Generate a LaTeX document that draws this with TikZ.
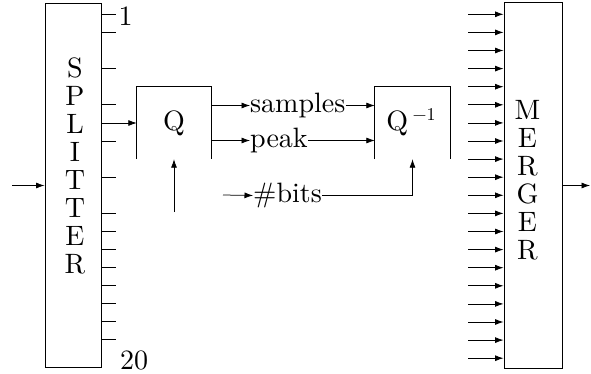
\documentclass[tikz,border=0pt]{standalone}
\usepackage{fontspec}
\setmainfont{lmroman10-regular.otf}
\usetikzlibrary{arrows.meta,calc}
\begin{document}
\begin{tikzpicture}[x=1pt,y=-1pt,
  arr/.style={line width=0.75pt,-{Latex[length=8.5pt,width=6pt]}},
  boxnode/.style={draw,line width=1pt,rectangle,inner sep=0pt},
  openbox/.style={rectangle,inner sep=0pt},
  bigtxt/.style={font=\fontsize{28}{28}\selectfont,inner sep=0pt},
  vtxt/.style={font=\fontsize{28}{28}\selectfont,inner sep=0pt,align=center},
  tick/.style={line width=0.75pt}]
\useasboundingbox (0,0) rectangle (591,374);

% splitter and merger
\node[boxnode,minimum width=56pt,minimum height=363pt] (S) at (73,185.5) {};
\node[vtxt] (Stxt) at (75,166) {S\\P\\L\\I\\T\\T\\E\\R};
\node[boxnode,minimum width=58pt,minimum height=365pt] (M) at (533,185.5) {};
\node[vtxt] (Mtxt) at (527.5,180) {M\\E\\R\\G\\E\\R};

% Q and Q^-1 (open at the bottom)
\node[openbox,minimum width=74pt,minimum height=72pt] (Q) at (174,123) {};
\node[bigtxt] (Qtxt) at (174,123) {Q};
\draw[line width=1pt] (Q.south west) -- (Q.north west) -- (Q.north east) -- (Q.south east);
\node[openbox,minimum width=75pt,minimum height=72pt] (Qi) at (412.5,123) {};
\node[bigtxt] (Qitxt) at (411,122) {Q\,\raisebox{10pt}{\fontsize{18}{18}\selectfont \char"2212 1}};
\draw[line width=1pt] (Qi.south west) -- (Qi.north west) -- (Qi.north east) -- (Qi.south east);

% labels 1 and 20
\node[bigtxt,anchor=west] (n1) at (118.5,16) {1};
\node[bigtxt,anchor=west] (n20) at (120,360) {20};

% splitter input
\coordinate (sin) at (12,185.5);
\draw[arr] (sin) -- (S.west);

% splitter output ticks
\foreach \i in {1,2,4,6,8,10,12,13,14,15,16,17,18,19}{
  \draw[tick] ($(S.east)+(0,{14.5+18.07*(\i-1)-185.5})$) -- ++(14,0);
}
% output 7 into Q
\draw[arr] (S.east |- Q.west) -- (Q.west);

% Q control input
\coordinate (qbin) at (174,212);
\draw[arr] (qbin) -- (Q.south);

% data labels
\node[bigtxt,anchor=base west] (samp) at (250,112.5) {samples};
\node[bigtxt,anchor=base west] (peak) at (250,147.5) {peak};
\node[bigtxt,anchor=base west] (bits) at (253,202.5) {\#bits};

\draw[arr] (Q.east |- samp.west) -- (samp.west);
\draw[arr] (Q.east |- peak.west) -- (peak.west);
\draw[arr] (samp.east) -- (Qi.west |- samp.east);
\draw[arr] (peak.east) -- (Qi.west |- peak.east);
\coordinate (bitsin) at (223,195);
\draw[arr] (bitsin) -- (bits.west);
\draw[arr] (bits.east) -| (Qi.south);

% merger inputs
\foreach \i in {1,...,20}{
  \coordinate (min\i) at (468,{14.3+18.1*(\i-1)});
  \draw[arr] (min\i) -- (M.west |- min\i);
}
% merger output
\coordinate (mout) at (590,185.5);
\draw[arr] (M.east) -- (mout);
\end{tikzpicture}
\end{document}
